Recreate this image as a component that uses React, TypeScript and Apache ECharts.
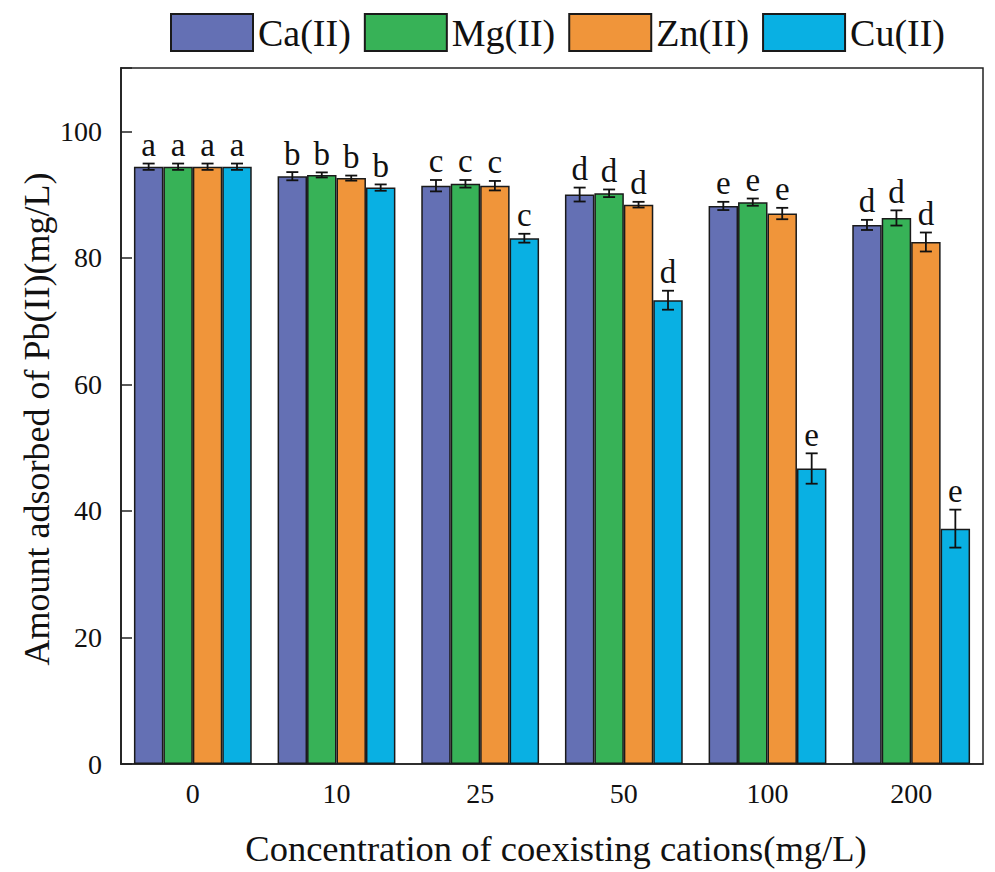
import React, { useEffect, useRef } from "react";
import * as echarts from "echarts";

const categories = ["0", "10", "25", "50", "100", "200"];
const seriesNames = ["Ca(II)", "Mg(II)", "Zn(II)", "Cu(II)"];
const colors = ["#6470B4", "#37B257", "#F0953A", "#09B0E3"];

const caValues = [94.4, 92.9, 91.4, 90.0, 88.2, 85.2];
const mgValues = [94.4, 93.1, 91.7, 90.2, 88.8, 86.3];
const znValues = [94.4, 92.6, 91.4, 88.4, 87.0, 82.5];
const cuValues = [94.4, 91.1, 83.1, 73.3, 46.7, 37.2];

const caErrors = [0.5, 0.65, 0.9, 1.1, 0.65, 0.8];
const mgErrors = [0.5, 0.4, 0.6, 0.6, 0.57, 1.2];
const znErrors = [0.5, 0.4, 0.75, 0.45, 0.9, 1.5];
const cuErrors = [0.5, 0.5, 0.7, 1.5, 2.4, 3.0];

const caLetters = ["a", "b", "c", "d", "e", "d"];
const mgLetters = ["a", "b", "c", "d", "e", "d"];
const znLetters = ["a", "b", "c", "d", "e", "d"];
const cuLetters = ["a", "b", "c", "d", "e", "e"];

const yTicks = { min: 0, max: 110, interval: 20 };

const FONT = "Liberation Serif";
const CAT_GAP = 0.18;

export default function App() {
  const ref = useRef<HTMLDivElement>(null);

  useEffect(() => {
    if (!ref.current) return;
    const chart = echarts.init(ref.current, null, { renderer: "svg", width: 995, height: 872 });
    const values = [caValues, mgValues, znValues, cuValues];
    const errors = [caErrors, mgErrors, znErrors, cuErrors];
    const letters = [caLetters, mgLetters, znLetters, cuLetters];

    const barSeries = seriesNames.map((name, s) => ({
      name,
      type: "bar",
      data: values[s],
      barGap: "0%",
      barCategoryGap: CAT_GAP * 100 + "%",
      itemStyle: { color: colors[s], borderColor: "#1a1a1a", borderWidth: 1.5 },
      z: 2,
    }));

    const errSeries = seriesNames.map((name, s) => ({
      name: name + "-err",
      type: "custom",
      z: 5,
      data: values[s].map((v, i) => [i, v, errors[s][i]]),
      renderItem: (params: any, api: any) => {
        const idx = api.value(0);
        const mean = api.value(1);
        const err = api.value(2);
        const letter = letters[s][params.dataIndex];
        const band = api.size([1, 0])[0];
        const groupW = band * (1 - CAT_GAP);
        const barW = groupW / 4;
        const c = api.coord([idx, mean]);
        const x = c[0] - groupW / 2 + barW * (s + 0.5);
        const top = api.coord([idx, mean + err])[1];
        const bot = api.coord([idx, mean - err])[1];
        const hw = 6;
        const ls = { stroke: "#111", lineWidth: 1.8 };
        return {
          type: "group",
          children: [
            { type: "line", shape: { x1: x, y1: top, x2: x, y2: bot }, style: ls },
            { type: "line", shape: { x1: x - hw, y1: top, x2: x + hw, y2: top }, style: ls },
            { type: "line", shape: { x1: x - hw, y1: bot, x2: x + hw, y2: bot }, style: ls },
            {
              type: "text",
              x,
              y: top - 2,
              style: {
                text: letter,
                fontFamily: FONT,
                fontSize: 33,
                fill: "#111",
                textAlign: "center",
                textVerticalAlign: "bottom",
              },
            },
          ],
        };
      },
    }));

    chart.setOption({
      animation: false,
      textStyle: { fontFamily: FONT },
      legend: {
        data: seriesNames,
        left: 165,
        top: 8,
        itemWidth: 82,
        itemHeight: 37,
        itemGap: 13,
        icon: "rect",
        textStyle: { fontSize: 38, color: "#111", fontFamily: FONT },
      },
      grid: {
        left: 121,
        width: 862,
        top: 68,
        height: 703,
        show: true,
        borderColor: "#222",
        borderWidth: 1.5,
        backgroundColor: "transparent",
      },
      xAxis: {
        type: "category",
        data: categories,
        axisLine: { lineStyle: { color: "#222", width: 1.5 } },
        axisTick: { show: false },
        axisLabel: { fontSize: 28, color: "#111", margin: 15, fontFamily: FONT },
        name: "Concentration of coexisting cations(mg/L)",
        nameLocation: "middle",
        nameGap: 66,
        nameTextStyle: { fontSize: 36.5, color: "#111", fontFamily: FONT, padding: [0, 0, 0, 8] },
      },
      yAxis: {
        type: "value",
        min: yTicks.min,
        max: yTicks.max,
        interval: yTicks.interval,
        splitLine: { show: false },
        axisLine: { show: true, lineStyle: { color: "#222", width: 1.8 } },
        axisTick: { show: true, inside: true, length: 11, lineStyle: { color: "#222", width: 1.5 } },
        axisLabel: {
          fontSize: 28,
          color: "#111",
          margin: 19,
          fontFamily: FONT,
          formatter: (v: number) => (v > 100 ? "" : String(v)),
        },
      },
      graphic: [
        {
          type: "text",
          x: 37,
          y: 419,
          rotation: Math.PI / 2,
          style: {
            text: "Amount adsorbed of Pb(II)(mg/L)",
            fontFamily: FONT,
            fontSize: 36,
            fill: "#111",
            textAlign: "center",
            textVerticalAlign: "middle",
          },
        },
      ],
      series: [...barSeries, ...errSeries],
    });

    return () => chart.dispose();
  }, []);

  return (
    <div
      ref={ref}
      style={{ position: "absolute", left: 0, top: 0, width: 995, height: 872 }}
    />
  );
}
